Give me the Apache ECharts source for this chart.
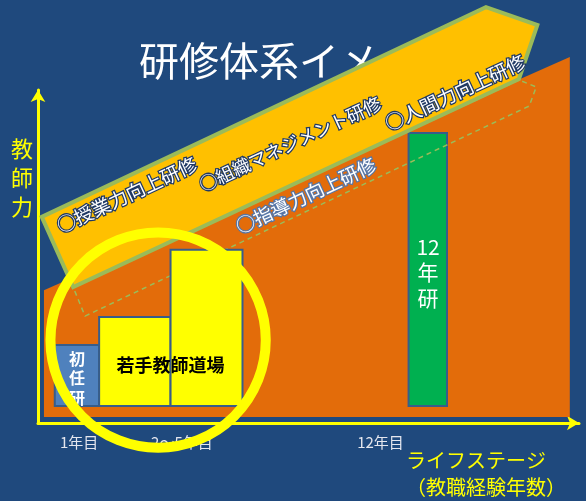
<!DOCTYPE html>
<html>
<head>
<meta charset="utf-8">
<script src="https://cdn.jsdelivr.net/npm/echarts@6/dist/echarts.min.js"></script>
<style>
html,body{margin:0;padding:0;background:#1f497d;}
#c{width:586px;height:501px;}
</style>
</head>
<body>
<div id="c"></div>
<script>
const FONT = '"Noto Sans CJK JP", "Noto Sans", sans-serif';

// x-axis tick labels (life stage)
const tickValues = [7.6, 26.6, 63.3];
const tickLabels = ['1年目', '2～5年目', '12年目'];

// growth area (orange trapezoid), in axis units
const stageX = [1.1, 98.3, 98.3, 1.1];
const stageY = [39.9, 109.9, 1.8, 1.8];

// big arrow
const arrowX = [0.7, 82.8, 92.3, 88.9, 6.5];
const arrowY = [61.9, 124.9, 119.5, 103.3, 40.8];

// dashed outline band
const dashX = [6.5, 88.9, 92.1, 90.8, 8.7];
const dashY = [40.8, 103.0, 100.9, 95.2, 32.1];

// training bars
const barNames = ['初任研', '若手教師道場(前)', '若手教師道場(後)', '12年研'];
const barStart = [3.1, 11.3, 24.5, 68.5];
const barEnd = [11.3, 24.5, 37.8, 75.6];
const barBase = [5.1, 5.1, 5.1, 5.1];
const barTop = [23.4, 31.8, 52.0, 87.1];

// bar labels
const labelText = ['初\n任\n研', '若手教師道場', '12\n年\n研'];
const labelX = [7.2, 24.5, 72.1];
const labelY = [13.5, 17.4, 45.3];

// course names along the arrow
const courseText = ['○授業力向上研修', '○組織マネジメント研修', '○指導力向上研修', '○人間力向上研修'];
const courseX = [16.4, 46.6, 49.5, 77.1];
const courseY = [68.5, 83.8, 68.3, 99.2];

// highlight circle
const circleX = [22.2];
const circleY = [24.9];
const circleR = [19.9];

const barFill = ['#4f81bd', '#ffff00', '#ffff00', '#00b050'];
const labelStyles = [
  {fill: '#ffffff', font: 'bold 16px ' + FONT, lineHeight: 19.5},
  {fill: '#000000', font: 'bold 18px ' + FONT, lineHeight: 20},
  {fill: '#ffffff', font: '21px ' + FONT, lineHeight: 25.5}
];
const courseStroke = ['#1f3864', '#1f3864', '#5776a6', '#1f3864'];
const courseFont = [19, 18, 19, 19];

function polySeries(name, xs, ys, style, z) {
  return {
    type: 'custom', name: name, z: z, clip: false, silent: true,
    data: [[xs[0], ys[0]]],
    renderItem: function (params, api) {
      return {
        type: 'polygon',
        shape: {points: xs.map(function (x, i) { return api.coord([x, ys[i]]); })},
        style: style
      };
    }
  };
}

function barSeries(name, idx, z) {
  return {
    type: 'custom', name: name, z: z, clip: false, silent: true,
    data: idx.map(function (i) { return [barStart[i], barEnd[i], barBase[i], barTop[i], i]; }),
    renderItem: function (params, api) {
      const p0 = api.coord([api.value(0), api.value(3)]);
      const p1 = api.coord([api.value(1), api.value(2)]);
      const i = api.value(4);
      return {
        type: 'rect',
        shape: {x: p0[0], y: p0[1], width: p1[0] - p0[0], height: p1[1] - p0[1]},
        style: {fill: barFill[i], stroke: '#385d8a', lineWidth: 2}
      };
    }
  };
}

const chart = echarts.init(document.getElementById('c'), null, {renderer: 'canvas'});
chart.setOption({
  backgroundColor: '#1f497d',
  animation: false,
  title: {
    text: '研修体系イメージ', left: 134, top: 36, z: 1,
    textStyle: {color: '#ffffff', fontSize: 40, fontWeight: 'normal', fontFamily: FONT}
  },
  grid: {left: 38, right: 7, top: 90, bottom: 78, containLabel: false},
  xAxis: {
    type: 'value', min: 0, max: 100,
    axisLine: {show: true, lineStyle: {color: '#ffff00', width: 3}, symbol: ['none', 'arrow'], symbolSize: [11, 12]},
    axisTick: {show: false},
    splitLine: {show: false},
    axisLabel: {
      customValues: tickValues,
      formatter: function (v) {
        const k = tickValues.indexOf(v);
        return k >= 0 ? tickLabels[k] : '';
      },
      color: '#e4e6ee', fontSize: 15, margin: 12, fontFamily: FONT
    }
  },
  yAxis: {
    type: 'value', min: 0, max: 100,
    axisLine: {show: true, onZero: false, lineStyle: {color: '#ffff00', width: 3}, symbol: ['none', 'arrow'], symbolSize: [11, 12]},
    axisTick: {show: false},
    splitLine: {show: false},
    axisLabel: {show: false}
  },
  graphic: [
    {type: 'text', x: 22, y: 134, style: {text: '教\n師\n力', fill: '#ffff00', font: '22px ' + FONT, lineHeight: 29, align: 'center', verticalAlign: 'top'}},
    {type: 'text', x: 406, y: 447, style: {text: 'ライフステージ\n（教職経験年数）', fill: '#ffff00', font: '20px ' + FONT, lineHeight: 27, align: 'left', verticalAlign: 'top'}}
  ],
  series: [
    polySeries('成長', stageX, stageY, {fill: '#e36c0a'}, 2),
    barSeries('12年研', [3], 3),
    polySeries('帯', dashX, dashY, {fill: 'none', stroke: '#9bbb59', lineWidth: 1.5, lineDash: [5, 4]}, 4),
    barSeries('若手', [0, 1, 2], 5),
    polySeries('矢印', arrowX, arrowY, {fill: '#ffc000', stroke: '#9bbb59', lineWidth: 4, lineJoin: 'miter'}, 6),
    {
      type: 'custom', name: '研修名', z: 7, clip: false, silent: true,
      data: courseX.map(function (x, i) { return [x, courseY[i]]; }),
      renderItem: function (params, api) {
        const p = api.coord([api.value(0), api.value(1)]);
        const i = params.dataIndex;
        return {
          type: 'text', x: p[0], y: p[1], rotation: 25 * Math.PI / 180,
          style: {
            text: courseText[i], fill: '#ffffff', stroke: courseStroke[i], lineWidth: 2.5, strokeFirst: true,
            font: courseFont[i] + 'px ' + FONT, align: 'center', verticalAlign: 'middle'
          }
        };
      }
    },
    {
      type: 'custom', name: 'ラベル', z: 8, clip: false, silent: true,
      data: labelX.map(function (x, i) { return [x, labelY[i]]; }),
      renderItem: function (params, api) {
        const p = api.coord([api.value(0), api.value(1)]);
        const s = labelStyles[params.dataIndex];
        return {
          type: 'text', x: p[0], y: p[1],
          style: {text: labelText[params.dataIndex], fill: s.fill, font: s.font, lineHeight: s.lineHeight, align: 'center', verticalAlign: 'middle'}
        };
      }
    },
    {
      type: 'custom', name: '円', z: 9, clip: false, silent: true,
      data: circleX.map(function (x, i) { return [x, circleY[i], circleR[i]]; }),
      renderItem: function (params, api) {
        const c = api.coord([api.value(0), api.value(1)]);
        const r = api.size([api.value(2), 0])[0];
        return {type: 'circle', shape: {cx: c[0], cy: c[1], r: r}, style: {fill: 'none', stroke: '#ffff00', lineWidth: 10}};
      }
    }
  ]
});
</script>
</body>
</html>
